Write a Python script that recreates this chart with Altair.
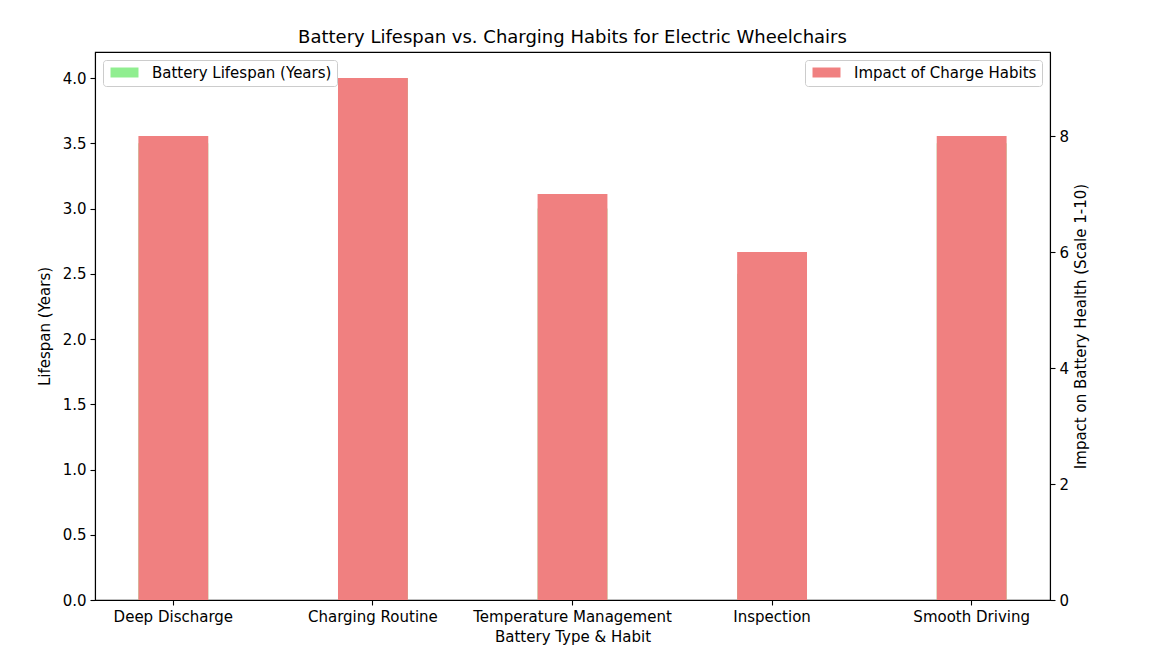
import altair as alt
import pandas as pd

categories = ["Deep Discharge", "Charging Routine", "Temperature Management", "Inspection", "Smooth Driving"]
lifespan = [3.5, 4.0, 3.0, 2.5, 3.5]
impact = [8, 9, 7, 6, 8]
series_left = "Battery Lifespan (Years)"
series_right = "Impact of Charge Habits"

df = pd.DataFrame({"habit": categories, "lifespan": lifespan, "impact": impact,
                   "s1": series_left, "s2": series_right})

FONT = "DejaVu Sans"
FS = 15
# wide rectangle handle: 28 x 10 px at symbolSize 100 (1 unit = 5 px)
rect_path = "M-1,-1L4.6,-1L4.6,1L-1,1Z"

def legend(orient):
    return alt.Legend(orient=orient, title=None, offset=8, padding=5,
                      fillColor="rgba(255,255,255,0.8)", strokeColor="#cccccc",
                      cornerRadius=3, symbolType=rect_path, symbolSize=100,
                      symbolStrokeWidth=0, labelOffset=29, labelLimit=0,
                      labelFontSize=FS, labelFont=FONT, labelColor="black")

xenc = alt.X("habit:N", sort=categories, title="Battery Type & Habit",
             scale=alt.Scale(paddingInner=0.65, paddingOuter=0.2175),
             axis=alt.Axis(labelAngle=0, labelLimit=0, titlePadding=5))

base = alt.Chart(df)

left = base.mark_bar(color="#90ee90").encode(
    x=xenc,
    y=alt.Y("lifespan:Q", title="Lifespan (Years)",
            scale=alt.Scale(domain=[0, 4.2], nice=False, zero=True),
            axis=alt.Axis(values=[0, 0.5, 1, 1.5, 2, 2.5, 3, 3.5, 4], format=".1f",
                          orient="left", titlePadding=10)),
    color=alt.Color("s1:N", scale=alt.Scale(domain=[series_left], range=["#90ee90"]),
                    legend=legend("top-left")),
)

right = base.mark_bar(color="#f08080").encode(
    x=xenc,
    y=alt.Y("impact:Q", title="Impact on Battery Health (Scale 1-10)",
            scale=alt.Scale(domain=[0, 9.45], nice=False, zero=True),
            axis=alt.Axis(values=[0, 2, 4, 6, 8], orient="right", titleAngle=270,
                          titleBaseline="top", titlePadding=5)),
    color=alt.Color("s2:N", scale=alt.Scale(domain=[series_right], range=["#f08080"]),
                    legend=legend("top-right")),
)

chart = alt.layer(left, right).resolve_scale(
    y="independent", color="independent"
).resolve_legend(color="independent").properties(
    width=955, height=548,
    padding={"left": 87, "top": 44, "right": 113, "bottom": 50},
    autosize=alt.AutoSizeParams(type="none"),
    title=alt.TitleParams("Battery Lifespan vs. Charging Habits for Electric Wheelchairs",
                          font=FONT, fontSize=18, fontWeight="normal", color="black",
                          offset=5, frame="group"),
).configure_view(stroke="black", strokeWidth=1.1).configure_axis(
    grid=False, domainColor="black", domainWidth=1.1, tickColor="black", tickSize=5,
    tickWidth=1.1, labelColor="black", titleColor="black", labelFont=FONT,
    titleFont=FONT, labelFontSize=FS, titleFontSize=FS, titleFontWeight="normal",
    labelPadding=4
)

chart.save("out.html", embed_options={"renderer": "svg", "actions": False})
